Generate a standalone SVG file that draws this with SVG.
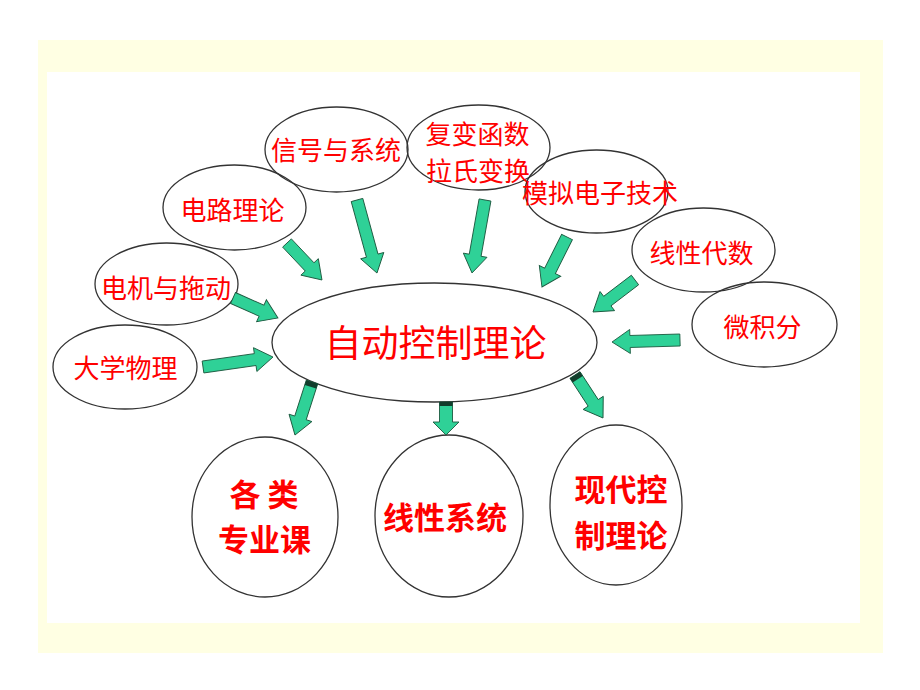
<svg xmlns="http://www.w3.org/2000/svg" width="920" height="690" viewBox="0 0 920 690">
<style>
.n{fill:none;stroke:#333;stroke-width:1.3}
.t{fill:#ff0000;font-family:"Noto Sans CJK SC","Noto Sans CJK JP",sans-serif;text-anchor:middle;font-size:26px}
.b{font-weight:bold;font-size:31px}
.c{font-size:37px}
.a{fill:#2fd197;stroke:#1d5a40;stroke-width:0.9;stroke-linejoin:miter}
.d{fill:#123d2c}
</style>
<rect x="38" y="40" width="845" height="613" fill="#ffffe3"/>
<rect x="47" y="72" width="813" height="551" fill="#ffffff"/>

<g id="node-center">
<ellipse class="n" cx="434.5" cy="342.5" rx="162.5" ry="59.5"/>
<text class="t c" x="435.5" y="357">自动控制理论</text>
</g>
<g id="node-daxuewuli">
<ellipse class="n" cx="125" cy="367" rx="72" ry="42"/>
<text class="t" x="125.5" y="378">大学物理</text>
</g>
<g id="node-dianji">
<ellipse class="n" cx="166.5" cy="284" rx="71.5" ry="41"/>
<text class="t" x="166" y="298">电机与拖动</text>
</g>
<g id="node-dianlu">
<ellipse class="n" cx="234.5" cy="207.5" rx="71.5" ry="42.5"/>
<text class="t" x="232.5" y="220">电路理论</text>
</g>
<g id="node-xinhao">
<ellipse class="n" cx="336.5" cy="149.5" rx="71.5" ry="42.5"/>
<text class="t" x="336" y="160">信号与系统</text>
</g>
<g id="node-fubian">
<ellipse class="n" cx="478.5" cy="147.5" rx="71.5" ry="42.5"/>
<text class="t" x="477.5" y="144">复变函数</text>
<text class="t" x="478" y="181">拉氏变换</text>
</g>
<g id="node-moni">
<ellipse class="n" cx="596.5" cy="191.5" rx="71.5" ry="41.5"/>
<text class="t" x="600" y="203">模拟电子技术</text>
</g>
<g id="node-xianxingdaishu">
<ellipse class="n" cx="703.5" cy="250" rx="71.5" ry="42"/>
<text class="t" x="701.5" y="263">线性代数</text>
</g>
<g id="node-weijifen">
<ellipse class="n" cx="764.5" cy="324.5" rx="72.5" ry="42.5"/>
<text class="t" x="762.5" y="337">微积分</text>
</g>
<g id="node-zhuanye">
<ellipse class="n" cx="265" cy="517" rx="73" ry="80"/>
<text class="t b" x="264" y="506">各 类</text>
<text class="t b" x="264.5" y="551">专业课</text>
</g>
<g id="node-xianxingxitong">
<ellipse class="n" cx="449" cy="516" rx="74" ry="81"/>
<text class="t b" x="445" y="529">线性系统</text>
</g>
<g id="node-xiandai">
<ellipse class="n" cx="616" cy="505" rx="66" ry="80"/>
<text class="t b" x="621" y="501">现代控</text>
<text class="t b" x="621" y="547">制理论</text>
</g>

<g id="connectors">
<path class="a" d="M0,-6 H52.7 V-12 L70.7,0 L52.7,12 V6 H0 Z" transform="translate(203,367) rotate(-8.1)"/>
<path class="a" d="M0,-6 H31.2 V-12 L49.2,0 L31.2,12 V6 H0 Z" transform="translate(233,298) rotate(24)"/>
<path class="a" d="M0,-6 H32.9 V-12 L50.9,0 L32.9,12 V6 H0 Z" transform="translate(287,243) rotate(46.6)"/>
<path class="a" d="M0,-6 H57.7 V-12 L75.7,0 L57.7,12 V6 H0 Z" transform="translate(357,200) rotate(74.7)"/>
<path class="a" d="M0,-6 H56.1 V-12 L74.1,0 L56.1,12 V6 H0 Z" transform="translate(485,200) rotate(100.1)"/>
<path class="a" d="M0,-6 H37.9 V-12 L55.9,0 L37.9,12 V6 H0 Z" transform="translate(567,237) rotate(116.6)"/>
<path class="a" d="M0,-6 H34.8 V-12 L52.8,0 L34.8,12 V6 H0 Z" transform="translate(635,280) rotate(142.7)"/>
<path class="a" d="M0,-6 H50 V-12 L68,0 L50,12 V6 H0 Z" transform="translate(680,340) rotate(178.3)"/>
<g transform="translate(312,382) rotate(107.8)">
<path class="a" d="M0,-6 H37.7 V-12 L55.7,0 L37.7,12 V6 H0 Z"/>
<rect class="d" x="0" y="-6" width="5" height="12"/>
</g>
<g transform="translate(446,402) rotate(90)">
<path class="a" d="M0,-6.5 H20 V-13 L33,0 L20,13 V6.5 H0 Z"/>
<rect class="d" x="0" y="-6.5" width="4" height="13"/>
</g>
<g transform="translate(575,375) rotate(56.9)">
<path class="a" d="M0,-6 H33.3 V-12 L51.3,0 L33.3,12 V6 H0 Z"/>
<rect class="d" x="0" y="-6" width="5" height="12"/>
</g>
</g>
</svg>
